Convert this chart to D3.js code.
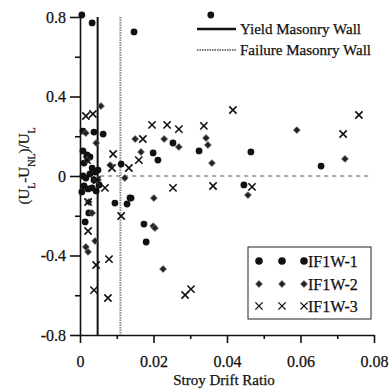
<!DOCTYPE html>
<html>
<head>
<meta charset="utf-8">
<script src="https://cdn.jsdelivr.net/npm/d3@7"></script>
<style>
  body { margin: 0; background: #fff; }
</style>
</head>
<body>
<svg id="chart" width="390" height="392"></svg>
<script>
// drift ratio / (UL-UNL)/UL
const if1w1 = [
  [0.0005, 0.81], [0.0033, 0.77], [0.0147, 0.725], [0.0356, 0.81],
  [0.0008, 0.226], [0.0038, 0.221], [0.0063, 0.211], [0.0008, 0.126],
  [0.0019, 0.106], [0.0011, 0.065], [0.0027, 0.096], [0.0033, 0.04],
  [0.0112, 0.06], [0.0199, 0.116], [0.0212, 0.08], [0.0253, 0.166],
  [0.0324, 0.126], [0.0465, 0.121], [0.0656, 0.05], [0.0446, -0.045],
  [0.0136, -0.11], [0.0095, -0.136], [0.0128, -0.141], [0.0139, -0.111],
  [0.0174, -0.242], [0.018, -0.332], [0.0024, -0.186], [0.0014, -0.231],
  [0.0008, 0], [0.0016, -0.01], [0.0027, 0.01], [0.0041, 0.02],
  [0.0049, 0.03], [0.0011, -0.05], [0.0022, -0.065], [0.0033, -0.06],
  [0.0044, -0.075], [0.0052, -0.045], [0.0005, -0.08], [0.0038, -0.02]
];
const if1w2 = [
  [0.0057, 0.352], [0.0016, 0.216], [0.0044, 0.166], [0.015, 0.186],
  [0.0166, 0.121], [0.0082, 0.055], [0.0122, -0.01], [0.0229, 0.186],
  [0.0269, 0.146], [0.0343, 0.191], [0.0348, 0.156], [0.0359, 0.065],
  [0.0201, -0.111], [0.0457, -0.096], [0.059, 0.231], [0.0721, 0.086],
  [0.0199, -0.252], [0.0204, -0.262], [0.0226, -0.468], [0.0024, -0.131],
  [0.0033, -0.186], [0.0041, -0.327], [0.0016, -0.357], [0.0022, -0.382],
  [0.0049, -0.02], [0.002, 0.08]
];
const if1w3 = [
  [0.0016, 0.302], [0.0035, 0.312], [0.009, 0.111], [0.0087, 0.04],
  [0.0133, 0.04], [0.016, 0.08], [0.0171, 0.186], [0.0196, 0.257],
  [0.0237, 0.257], [0.0269, 0.236], [0.0253, -0.06], [0.0068, -0.06],
  [0.0046, -0.02], [0.0337, 0.252], [0.0416, 0.332], [0.0362, -0.05],
  [0.0468, -0.055], [0.0759, 0.307], [0.0716, 0.211], [0.0022, -0.131],
  [0.0022, -0.277], [0.0112, -0.201], [0.0079, -0.418], [0.0044, -0.448],
  [0.0038, -0.574], [0.0076, -0.614], [0.0286, -0.599], [0.0302, -0.569],
  [0.0019, 0.08]
];
const yieldDrift = 0.0048;
const failureDrift = 0.011;
const xTicks = [0, 0.02, 0.04, 0.06, 0.08];
const xMinor = [0.01, 0.03, 0.05, 0.07];
const yTicks = [-0.8, -0.4, 0, 0.4, 0.8];
const yMinor = [-0.6, -0.2, 0.2, 0.6];
const seriesNames = ['IF1W-1', 'IF1W-2', 'IF1W-3'];

const serif = 'Liberation Serif';
const svg = d3.select('#chart');
const x = d3.scaleLinear().domain([0, 0.08]).range([80, 374]);
const y = d3.scaleLinear().domain([-0.8, 0.8]).range([335, 17]);
const fmt = d => d === 0 ? '0' : String(d);

// small helper so every label gets the same scan-like weight
function label(sel, size) {
  return sel.style('font-family', serif).style('font-size', size + 'px')
    .attr('fill', '#111').attr('stroke', '#111').attr('stroke-width', 0.25);
}

// axes
const gx = svg.append('g').attr('transform', `translate(0,${y(-0.8)})`)
  .call(d3.axisBottom(x).tickValues(xTicks).tickFormat(fmt).tickSize(8).tickSizeOuter(0).tickPadding(13));
svg.append('g').attr('transform', `translate(0,${y(-0.8)})`)
  .call(d3.axisBottom(x).tickValues(xMinor).tickFormat('').tickSize(4).tickSizeOuter(0))
  .select('.domain').remove();
const gy = svg.append('g').attr('transform', `translate(${x(0)},0)`)
  .call(d3.axisLeft(y).tickValues(yTicks).tickFormat(fmt).tickSize(10).tickSizeOuter(0).tickPadding(4));
svg.append('g').attr('transform', `translate(${x(0)},0)`)
  .call(d3.axisLeft(y).tickValues(yMinor).tickFormat('').tickSize(5).tickSizeOuter(0))
  .select('.domain').remove();
svg.selectAll('.domain, .tick line').attr('stroke', '#111').attr('stroke-width', 1.6);
label(gx.selectAll('text'), 16);
label(gy.selectAll('text'), 16);

// reference lines
svg.append('line')
  .attr('x1', x(yieldDrift)).attr('x2', x(yieldDrift))
  .attr('y1', y(0.8)).attr('y2', y(-0.8))
  .attr('stroke', '#111').attr('stroke-width', 2);
svg.append('line')
  .attr('x1', x(failureDrift)).attr('x2', x(failureDrift))
  .attr('y1', y(0.8)).attr('y2', y(-0.8))
  .attr('stroke', '#888').attr('stroke-width', 2).attr('stroke-dasharray', '1.5,1');
svg.append('line')
  .attr('x1', x(0.0055)).attr('x2', x(0.0785))
  .attr('y1', y(0)).attr('y2', y(0))
  .attr('stroke', '#555').attr('stroke-width', 1).attr('stroke-dasharray', '4,4');

// markers
const diamond = d3.symbol().type(d3.symbolDiamond2).size(30);
const cross = d3.symbol().type(d3.symbolTimes).size(36);

function drawCircle(g, cx, cy, r) {
  g.append('circle').attr('cx', cx).attr('cy', cy).attr('r', r).attr('fill', '#111');
}

svg.append('g').selectAll('circle').data(if1w1).join('circle')
  .attr('cx', d => x(d[0])).attr('cy', d => y(d[1])).attr('r', 3.4).attr('fill', '#111');
svg.append('g').selectAll('path').data(if1w2).join('path')
  .attr('d', diamond).attr('transform', d => `translate(${x(d[0])},${y(d[1])})`)
  .attr('fill', '#222').attr('stroke', '#666').attr('stroke-width', 0.8);
svg.append('g').selectAll('path').data(if1w3).join('path')
  .attr('d', cross).attr('transform', d => `translate(${x(d[0])},${y(d[1])})`)
  .attr('fill', 'none').attr('stroke', '#111').attr('stroke-width', 1.6);

// axis titles
label(svg.append('text').attr('x', 224).attr('y', 385).attr('text-anchor', 'middle'), 15)
  .text('Stroy Drift Ratio');
const yt = label(svg.append('text').attr('transform', 'translate(29,166) rotate(-90)')
  .attr('text-anchor', 'middle'), 15);
yt.append('tspan').text('(U');
yt.append('tspan').attr('baseline-shift', 'sub').style('font-size', '10px').text('L');
yt.append('tspan').text('-U');
yt.append('tspan').attr('baseline-shift', 'sub').style('font-size', '10px').text('NL');
yt.append('tspan').text(')/U');
yt.append('tspan').attr('baseline-shift', 'sub').style('font-size', '10px').text('L');

// top legend
const lt = svg.append('g');
lt.append('line').attr('x1', 197).attr('x2', 236).attr('y1', 29).attr('y2', 29)
  .attr('stroke', '#111').attr('stroke-width', 2.5);
label(lt.append('text').attr('x', 240).attr('y', 29).attr('dy', '0.35em'), 15)
  .text('Yield Masonry Wall');
lt.append('line').attr('x1', 197).attr('x2', 236).attr('y1', 50).attr('y2', 50)
  .attr('stroke', '#777').attr('stroke-width', 2).attr('stroke-dasharray', '1.5,1');
label(lt.append('text').attr('x', 240).attr('y', 50).attr('dy', '0.35em'), 15)
  .text('Failure Masonry Wall');

// series legend
const lg = svg.append('g');
lg.append('rect').attr('x', 248).attr('y', 247).attr('width', 123).attr('height', 72)
  .attr('fill', '#fff').attr('stroke', '#222').attr('stroke-width', 1);
const rowY = [261, 284, 306];
const markX = [259, 282, 304];
seriesNames.forEach((name, i) => {
  markX.forEach(mx => {
    if (i === 0) drawCircle(lg, mx, rowY[i], 3.8);
    else if (i === 1) lg.append('path').attr('d', diamond).attr('transform', `translate(${mx},${rowY[i]})`)
      .attr('fill', '#222').attr('stroke', '#666').attr('stroke-width', 0.8);
    else lg.append('path').attr('d', cross).attr('transform', `translate(${mx},${rowY[i]})`)
      .attr('fill', 'none').attr('stroke', '#111').attr('stroke-width', 1.4);
  });
  label(lg.append('text').attr('x', 308).attr('y', rowY[i]).attr('dy', '0.35em'), 16).text(name);
});
</script>
</body>
</html>
